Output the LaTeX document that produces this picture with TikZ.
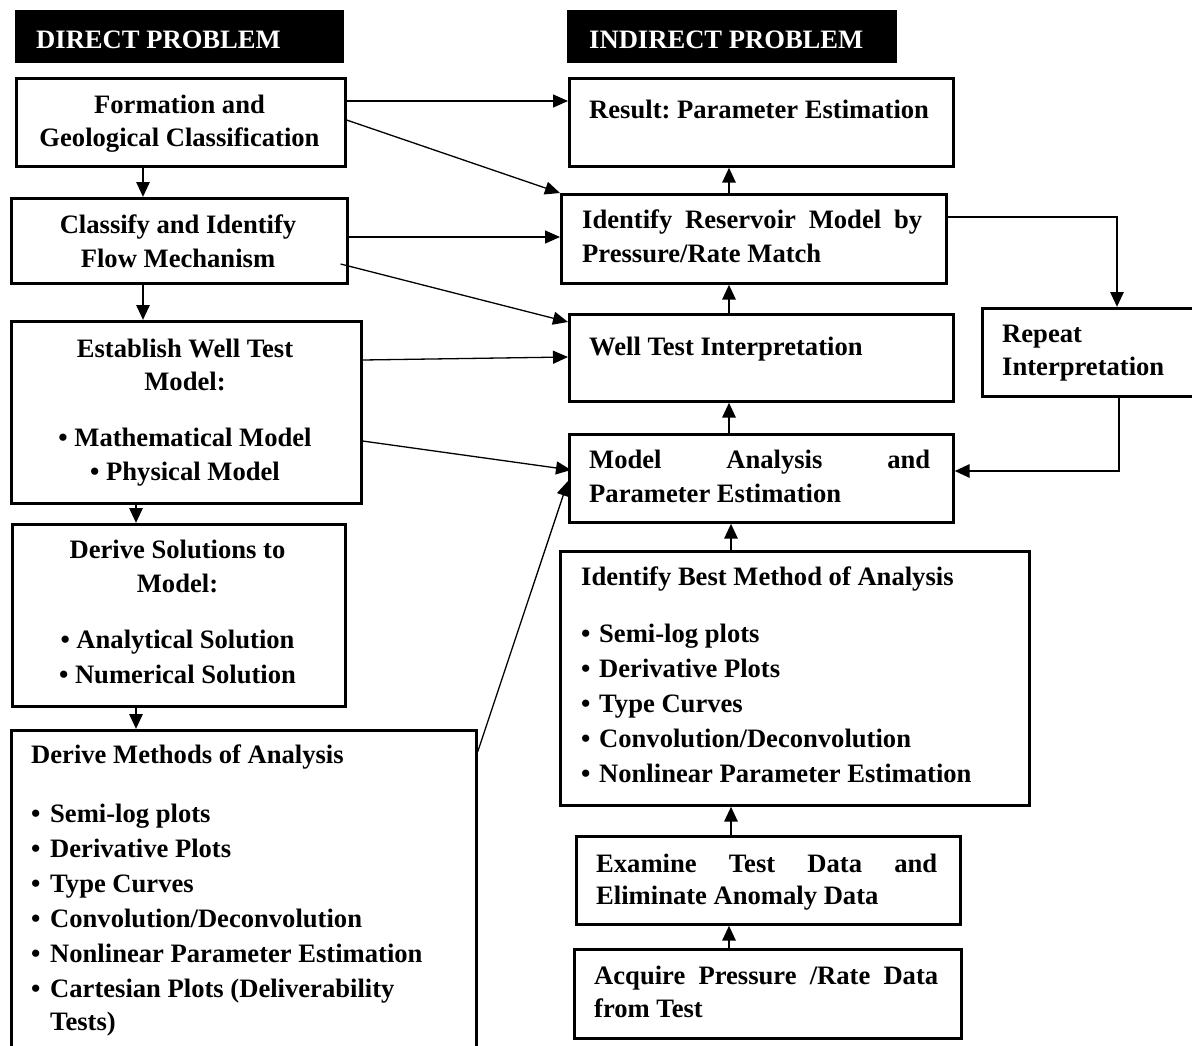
\documentclass[tikz,border=0pt]{standalone}
\usepackage{fontspec}
\setmainfont{Liberation Serif}
\usetikzlibrary{arrows.meta,calc}
\frenchspacing
\begin{document}
\begin{tikzpicture}[x=1pt,y=-1pt,
  box/.style={draw,line width=2.6pt,inner sep=0pt,anchor=north west},
  hdr/.style={fill=black,inner sep=0pt,anchor=north west},
  tl/.style={inner sep=0pt,font=\fontsize{26.6}{33}\selectfont\bfseries},
  arrt/.style={line width=1.3pt,-{Triangle[length=15pt,width=13pt]}},
  arrT/.style={line width=2.8pt,-{Triangle[length=15pt,width=13pt]}},
]
\useasboundingbox (0,0) rectangle (1192,1045);
\clip (0,0) rectangle (1192,1045);
% headers
\node[hdr,minimum width=329,minimum height=53] (dirh) at (15,10) {};
\node[tl,text=white,anchor=base west] (dirt) at (36,48) {DIRECT PROBLEM};
\node[hdr,minimum width=330,minimum height=53] (indh) at (567,10) {};
\node[tl,text=white,anchor=base west] (indt) at (589,48) {INDIRECT PROBLEM};
% left column
\node[box,minimum width=329,minimum height=88] (formation) at (15,77) {};
\node[tl,anchor=base] (f1) at (179.5,113) {Formation and};
\node[tl,anchor=base] (f2) at (179.5,146) {Geological Classification};
\node[box,minimum width=336,minimum height=85] (classify) at (10,197) {};
\node[tl,anchor=base] (c1) at (178,233) {Classify and Identify};
\node[tl,anchor=base] (c2) at (178,267) {Flow Mechanism};
\node[box,minimum width=350,minimum height=182] (establish) at (10,320) {};
\node[tl,anchor=base] (e1) at (185,357) {Establish Well Test};
\node[tl,anchor=base] (e2) at (185,390) {Model:};
\node[tl,anchor=base] (e3) at (185,446) {• Mathematical Model};
\node[tl,anchor=base] (e4) at (185,480) {• Physical Model};
\node[box,minimum width=333,minimum height=182] (derivesol) at (11,523) {};
\node[tl,anchor=base] (s1) at (177.5,558) {Derive Solutions to};
\node[tl,anchor=base] (s2) at (177.5,592) {Model:};
\node[tl,anchor=base] (s3) at (177.5,648) {• Analytical Solution};
\node[tl,anchor=base] (s4) at (177.5,683) {• Numerical Solution};
\node[box,minimum width=465,minimum height=340] (derivemeth) at (10,729) {};
\node[tl,anchor=base west] (m0) at (31,763) {Derive Methods of Analysis};
\node[tl,anchor=base west] (m1) at (31,822) {\makebox[19pt][l]{•}Semi-log plots};
\node[tl,anchor=base west] (m2) at (31,857) {\makebox[19pt][l]{•}Derivative Plots};
\node[tl,anchor=base west] (m3) at (31,892) {\makebox[19pt][l]{•}Type Curves};
\node[tl,anchor=base west] (m4) at (31,927) {\makebox[19pt][l]{•}Convolution/Deconvolution};
\node[tl,anchor=base west] (m5) at (31,962) {\makebox[19pt][l]{•}Nonlinear Parameter Estimation};
\node[tl,anchor=base west] (m6) at (31,997) {\makebox[19pt][l]{•}Cartesian Plots (Deliverability};
\node[tl,anchor=base west] (m7) at (50,1030) {Tests)};
% right column
\node[box,minimum width=384,minimum height=88] (result) at (568,77) {};
\node[tl,anchor=base west] (r1) at (589,118) {Result: Parameter Estimation};
\node[box,minimum width=385,minimum height=89] (identres) at (560,193) {};
\node[tl,anchor=base west] (i1) at (582,228) {\makebox[340pt][s]{Identify Reservoir Model by}};
\node[tl,anchor=base west] (i2) at (582,262) {Pressure/Rate Match};
\node[box,minimum width=384,minimum height=87] (welltest) at (568,313) {};
\node[tl,anchor=base west] (w1) at (589,355) {Well Test Interpretation};
\node[box,minimum width=240,minimum height=88] (repeat) at (981,307) {};
\node[tl,anchor=base west] (p1) at (1002,342) {Repeat};
\node[tl,anchor=base west] (p2) at (1002,375) {Interpretation};
\node[box,minimum width=384,minimum height=88] (model) at (568,433) {};
\node[tl,anchor=base west] (a1) at (589,468) {\makebox[341pt][s]{Model Analysis and}};
\node[tl,anchor=base west] (a2) at (589,502) {Parameter Estimation};
\node[box,minimum width=469,minimum height=254] (identbest) at (559,550) {};
\node[tl,anchor=base west] (b0) at (581,585) {Identify Best Method of Analysis};
\node[tl,anchor=base west] (b1) at (581,642) {\makebox[18pt][l]{•}Semi-log plots};
\node[tl,anchor=base west] (b2) at (581,677) {\makebox[18pt][l]{•}Derivative Plots};
\node[tl,anchor=base west] (b3) at (581,712) {\makebox[18pt][l]{•}Type Curves};
\node[tl,anchor=base west] (b4) at (581,747) {\makebox[18pt][l]{•}Convolution/Deconvolution};
\node[tl,anchor=base west] (b5) at (581,782) {\makebox[18pt][l]{•}Nonlinear Parameter Estimation};
\node[box,minimum width=384,minimum height=88] (examine) at (575,835) {};
\node[tl,anchor=base west] (x1) at (596,872) {\makebox[341pt][s]{Examine Test Data and}};
\node[tl,anchor=base west] (x2) at (596,904) {Eliminate Anomaly Data};
\node[box,minimum width=387,minimum height=89] (acquire) at (573,948) {};
\node[tl,anchor=base west] (q1) at (594,984) {\makebox[344pt][s]{Acquire Pressure /Rate Data}};
\node[tl,anchor=base west] (q2) at (594,1017) {from Test};
% thin connectors from left to right
\draw[arrt] (formation.east |- 0,101) -- (result.west |- 0,101);
\draw[arrt] (formation.east |- 0,120) -- (identres.north west);
\draw[arrt] (classify.east |- 0,237) -- (identres.west |- 0,237);
\draw[arrt] ($(classify.east |- 0,264)+(-8,0)$) -- (welltest.west |- 0,322);
\draw[arrt] (establish.east |- 0,360) -- (welltest.west |- 0,357);
\draw[arrt] (establish.east |- 0,441) -- ($(model.west |- 0,470)+(3,0)$);
\draw[arrt] (derivemeth.east |- 0,752) -- (model.west |- 0,481);
% vertical connectors
\draw[arrT] (formation.south -| 143,0) -- (classify.north -| 143,0);
\draw[arrT] (classify.south -| 143,0) -- (establish.north -| 143,0);
\draw[arrT] (establish.south -| 136,0) -- (derivesol.north -| 136,0);
\draw[arrT] (derivesol.south -| 136,0) -- (derivemeth.north -| 136,0);
\draw[arrT] (identres.north -| 729,0) -- (result.south -| 729,0);
\draw[arrT] (welltest.north -| 729,0) -- (identres.south -| 729,0);
\draw[arrT] (model.north -| 729,0) -- (welltest.south -| 729,0);
\draw[arrT] (identbest.north -| 731,0) -- (model.south -| 731,0);
\draw[arrT] (examine.north -| 731,0) -- (identbest.south -| 731,0);
\draw[arrT] (acquire.north -| 729,0) -- (examine.south -| 729,0);
% loop through Repeat Interpretation
\draw[arrT] (identres.east |- 0,217) -| (repeat.north -| 1117,0);
\draw[arrT] (repeat.south -| 1119,0) |- (model.east |- 0,471);
\end{tikzpicture}
\end{document}
